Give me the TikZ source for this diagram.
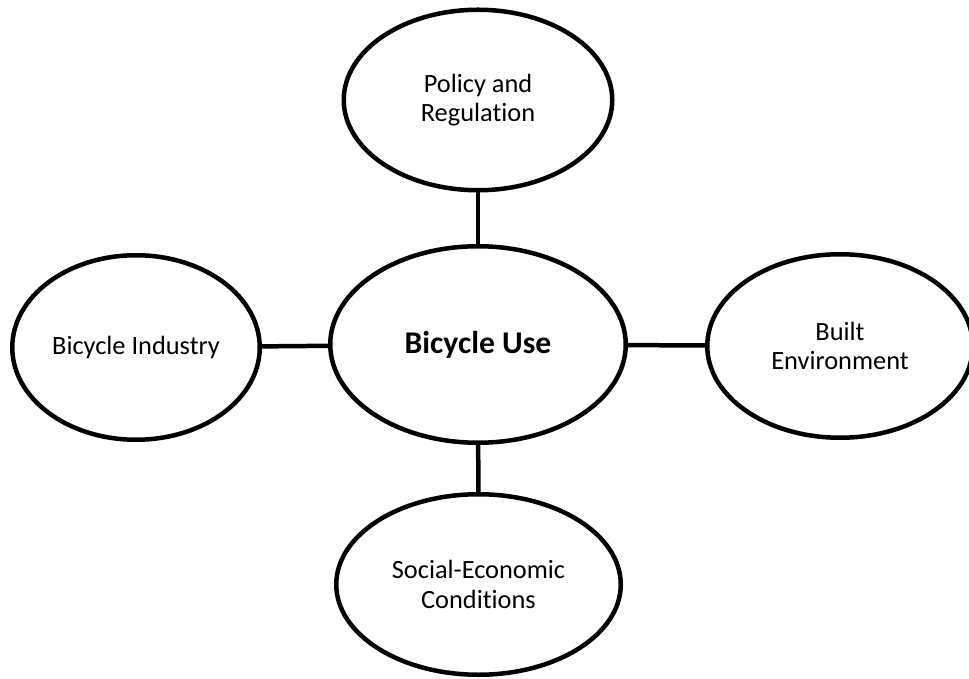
\documentclass[tikz,border=0pt]{standalone}
\usepackage{fontspec}
\setmainfont[Ligatures=NoCommon]{Carlito}
\usetikzlibrary{shapes.geometric}

\tikzset{
	factor/.style={draw, ellipse, line width=0.09cm, inner sep=0pt, align=center,
		font=\fontsize{15pt}{16.6pt}\selectfont},
	link/.style={line width=0.09cm}
}

\begin{document}
\begin{tikzpicture}
	\useasboundingbox (0,0) rectangle (19.38,-13.58);

	\node[factor, minimum width=5.91cm, minimum height=3.93cm,
		font=\fontsize{18pt}{21pt}\selectfont\bfseries] (use) at (9.56,-6.89) {Bicycle Use};

	\node[factor, minimum width=5.37cm, minimum height=3.61cm] (policy) at (9.56,-2.00) {Policy and\\Regulation};
	\node[factor, minimum width=4.95cm, minimum height=3.69cm] (industry) at (2.72,-6.95) {Bicycle Industry};
	\node[factor, minimum width=5.31cm, minimum height=3.67cm] (built) at (16.80,-6.92) {Built\\Environment};
	\node[factor, minimum width=5.69cm, minimum height=3.61cm] (social) at (9.57,-11.69) {Social-Economic\\Conditions};

	\foreach \n in {policy, industry, built, social}
	{
		\draw[link] (use) -- (\n);
	};
\end{tikzpicture}
\end{document}
